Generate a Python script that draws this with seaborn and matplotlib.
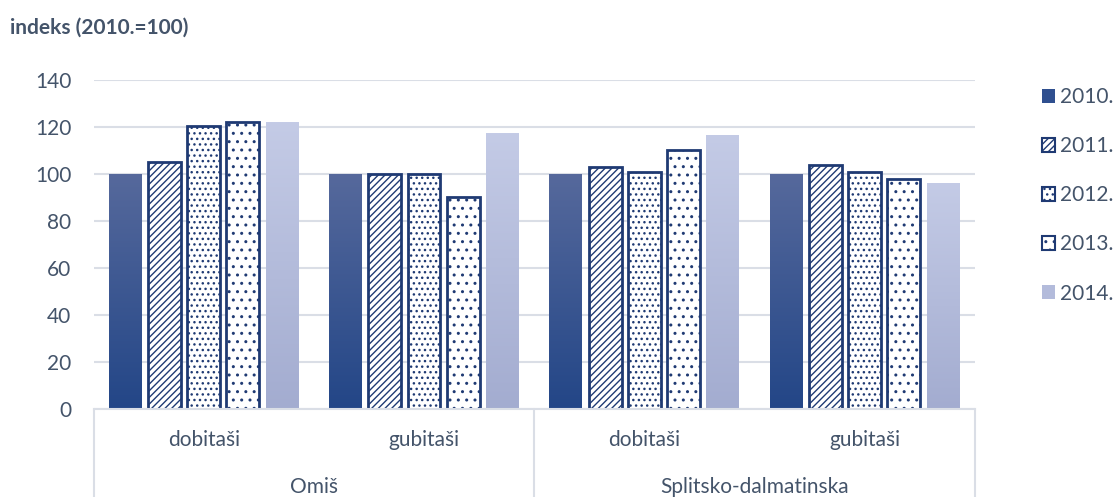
import numpy as np
import pandas as pd
import seaborn as sns
import matplotlib.pyplot as plt
from matplotlib.colors import LinearSegmentedColormap
from matplotlib.patches import Patch
from matplotlib.lines import Line2D
from matplotlib.transforms import blended_transform_factory

# data
regions = ['Omiš', 'Omiš', 'Splitsko-dalmatinska', 'Splitsko-dalmatinska']
groups = ['dobitaši', 'gubitaši', 'dobitaši', 'gubitaši']
years = ['2010.', '2011.', '2012.', '2013.', '2014.']
v2010 = [100, 100, 100, 100]
v2011 = [105, 100, 103, 104]
v2012 = [120.3, 100, 100.8, 101]
v2013 = [122, 90.2, 110.2, 97.8]
v2014 = [122, 117.4, 116.6, 96.2]

keys = [r + '|' + g for r, g in zip(regions, groups)]
values = [v2010, v2011, v2012, v2013, v2014]
df = pd.DataFrame({
    'key': [k for _ in years for k in keys],
    'year': [y for y in years for _ in keys],
    'value': [v for vals in values for v in vals],
})

NAVY = '#1f3a73'
TXT = '#44546a'
GRID = '#dadee6'
FS = 15

sns.set_style('white')
plt.rcParams['font.family'] = ['Lato', 'DejaVu Sans']
plt.rcParams['hatch.linewidth'] = 1.0
plt.rcParams['hatch.color'] = NAVY

fig = plt.figure(figsize=(11.14, 4.97), dpi=100)
ax = fig.add_axes([0.084, 0.177, 0.791, 0.662])

sns.barplot(data=df, x='key', y='value', hue='year', order=keys, hue_order=years,
            width=0.89, gap=0.16, palette=['#2f4f8f', 'white', 'white', 'white', '#b3bbdb'],
            saturation=1, legend=False, ax=ax)

hatches = [None, '/////', '...', '..', None]
grads = [('#234687', '#56699c'), None, None, None, ('#a3acd0', '#c4cbe6')]
gradient = np.linspace(0, 1, 256).reshape(-1, 1)
for cont, h, g in zip(ax.containers, hatches, grads):
    for p in cont:
        if h is not None:
            p.set_hatch(h)
            p.set_edgecolor(NAVY)
            p.set_linewidth(2)
        if g is not None:
            cmap = LinearSegmentedColormap.from_list('g', list(g))
            x0, w, hgt = p.get_x(), p.get_width(), p.get_height()
            p.set_facecolor('none')
            p.set_edgecolor('none')
            im = ax.imshow(gradient, extent=[x0, x0 + w, 0, hgt], origin='lower',
                           aspect='auto', cmap=cmap, zorder=p.get_zorder())
            im.set_clip_path(p)

ax.set_xlim(-0.5, 3.5)
ax.set_ylim(0, 140)
ax.set_yticks(range(0, 141, 20))
ax.yaxis.grid(True, color=GRID, lw=1.5)
ax.set_axisbelow(True)
for s in ['top', 'right', 'left']:
    ax.spines[s].set_visible(False)
ax.spines['bottom'].set_color(GRID)
ax.spines['bottom'].set_linewidth(1.5)
ax.tick_params(axis='both', length=0, labelsize=FS, labelcolor=TXT)
ax.tick_params(axis='y', pad=16)
ax.tick_params(axis='x', pad=15)
ax.set_xticks(range(len(keys)))
ax.set_xticklabels(groups)
ax.set_xlabel('')
ax.set_ylabel('')

# second level of category labels
tr = blended_transform_factory(ax.transData, ax.transAxes)
for r in dict.fromkeys(regions):
    idx = [i for i, rr in enumerate(regions) if rr == r]
    ax.text(np.mean(idx), -0.237, r, transform=tr, ha='center', va='center',
            fontsize=FS, color=TXT)
for xs in [-0.5, 1.5, 3.5]:
    ax.add_line(Line2D([xs, xs], [0, -0.27], transform=tr, color=GRID, lw=1.5,
                       clip_on=False))

fig.text(0.009, 0.945, 'indeks (2010.=100)', fontsize=FS, fontweight='bold',
         color=TXT, ha='left', va='center')

handles = [
    Patch(facecolor='#2f4f8f', edgecolor='none'),
    Patch(facecolor='white', edgecolor=NAVY, hatch='/////', lw=1.5),
    Patch(facecolor='white', edgecolor=NAVY, hatch='...', lw=1.5),
    Patch(facecolor='white', edgecolor=NAVY, hatch='..', lw=1.5),
    Patch(facecolor='#b3bbdb', edgecolor='none'),
]
leg = fig.legend(handles, years, loc='upper left', bbox_to_anchor=(0.935, 0.825),
                 frameon=False, fontsize=FS, handlelength=0.65, handleheight=0.65,
                 handletextpad=0.25, labelspacing=1.4, borderaxespad=0, borderpad=0)
for t in leg.get_texts():
    t.set_color(TXT)

fig.savefig('out.png', dpi=100)
